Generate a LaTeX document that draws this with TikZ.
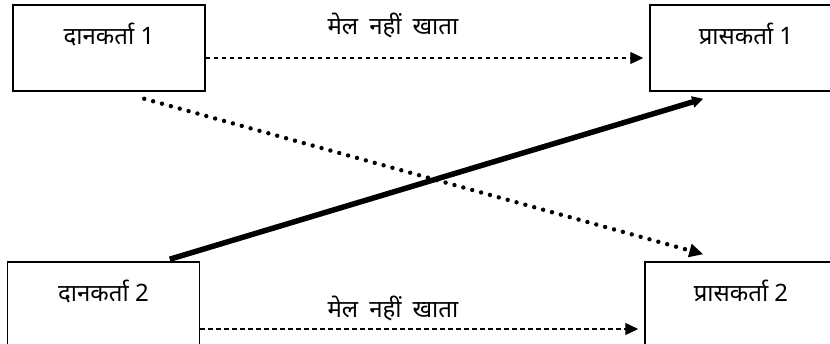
\documentclass[tikz,border=0pt]{standalone}
\usepackage{fontspec}
\setmainfont{Noto Sans}[Script=Devanagari]
\usetikzlibrary{arrows.meta}

\tikzset{
    party/.style={draw, line width=1.5pt, minimum width=192pt, minimum height=86pt},
    partyname/.style={anchor=north, yshift=-15pt, font=\fontsize{24}{28}\selectfont},
    note/.style={font=\fontsize{24}{28}\selectfont},
    nomatch/.style={line width=1.3pt, dash pattern=on 4.5pt off 3.5pt, -{Triangle[length=13pt,width=12pt]}, shorten >=6pt},
    weak/.style={line width=4.4pt, line cap=round, dash pattern=on 0pt off 9.2pt, -{Triangle[length=14pt,width=13pt]}},
    strong/.style={line width=5.5pt, -{Triangle[length=11pt,width=11pt]}}
}

\begin{document}
\begin{tikzpicture}[x=1pt,y=-1pt]
    \useasboundingbox (0,0) rectangle (830,344);
    \clip (0,0) rectangle (830,344);

    \node[party, label={[partyname]north:दानकर्ता 1}] (donor1) at (109,48) {};
    \node[party, label={[partyname]north:प्रासकर्ता 1}] (recv1) at (746,48) {};
    \node[party, label={[partyname]north:दानकर्ता 2}] (donor2) at (103.5,305) {};
    \node[party, label={[partyname]north:प्रासकर्ता 2}] (recv2) at (741,305) {};

    \node[note] (match1) at (393,25) {मेल\hspace{0.2em} नहीं\hspace{0.2em} खाता};
    \node[note] (match2) at (393,308) {मेल\hspace{0.2em} नहीं\hspace{0.2em} खाता};

    \draw[nomatch] ([yshift=-10pt]donor1.east) -- ([yshift=-10pt]recv1.west);
    \draw[nomatch] ([yshift=-24pt]donor2.east) -- ([yshift=-24pt]recv2.west);

    \draw[weak] ([shift={(132,7)}]donor1.south west) -- ([shift={(59,-7)}]recv2.north west);
    \draw[strong] ([shift={(163,-2)}]donor2.north west) -- ([shift={(54,7)}]recv1.south west);
\end{tikzpicture}
\end{document}
